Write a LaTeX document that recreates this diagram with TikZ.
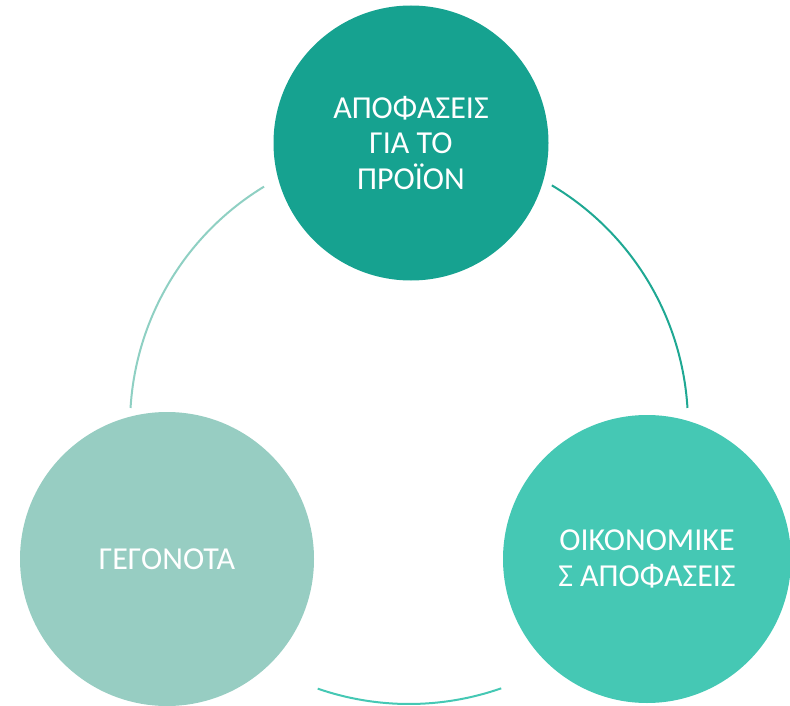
\documentclass[tikz,border=0pt]{standalone}
\usepackage{fontspec}
\setmainfont{Carlito}
\usetikzlibrary{calc}
\definecolor{topc}{HTML}{16A290}
\definecolor{rightc}{HTML}{45C8B4}
\definecolor{leftc}{HTML}{97CDC2}
\definecolor{arcl}{HTML}{8FD0C3}
\definecolor{arcr}{HTML}{1FA893}
\definecolor{arcb}{HTML}{45C8B4}
\tikzset{
  stage/.style={circle, inner sep=0pt, text=white, align=center,
    font=\fontsize{32}{35.5}\selectfont},
  link/.style={line width=2pt}
}
\begin{document}
\begin{tikzpicture}[x=1pt,y=-1pt]
\useasboundingbox (0,0) rectangle (790,706);
% the three stages
\node[stage, fill=topc, minimum size=275pt] (prod) at (411,143)
  {ΑΠΟΦΑΣΕΙΣ\\ΓΙΑ ΤΟ\\ΠΡΟΪΟΝ};
\node[stage, fill=rightc, minimum size=288pt] (econ) at (647,559)
  {ΟΙΚΟΝΟΜΙΚΕ\\Σ ΑΠΟΦΑΣΕΙΣ};
\node[stage, fill=leftc, minimum size=294pt] (facts) at (167,559)
  {ΓΕΓΟΝΟΤΑ};
% cycle arcs on a common ring
\coordinate (ring) at (409,425);
\coordinate (r1) at ($(ring)+(-59.2:279)$);
\coordinate (b1) at ($(ring)+(-289.3:279)$);
\coordinate (l1) at ($(ring)+(-121.3:279)$);
\draw[link, arcr] (r1) arc[start angle=-59.2, end angle=-3.5, radius=279];
\draw[link, arcb] (b1) arc[start angle=-289.3, end angle=-250.9, radius=279];
\draw[link, arcl] (l1) arc[start angle=-121.3, end angle=-176.5, radius=279];
\end{tikzpicture}
\end{document}
